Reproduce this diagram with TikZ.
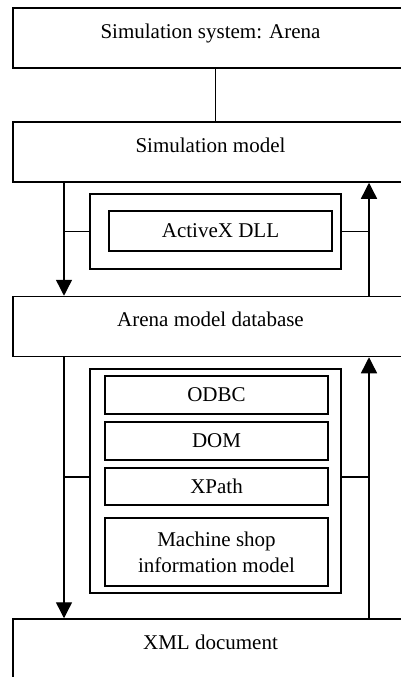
\documentclass[tikz,border=0pt]{standalone}
\usepackage{fontspec}
\setmainfont{Liberation Serif}
\usetikzlibrary{arrows.meta, positioning, calc}

\begin{document}
\begin{tikzpicture}[
    x=1pt, y=-1pt,
    layer/.style={rectangle, draw, line width=1.5pt, minimum width=395pt, minimum height=60pt, inner sep=0pt, text height=14pt, text depth=14pt, font=\fontsize{21}{26}\selectfont},
    frame/.style={rectangle, draw, line width=1.5pt, minimum width=251pt, inner sep=0pt},
    module/.style={rectangle, draw, line width=1.5pt, minimum width=223pt, minimum height=38pt, inner sep=0pt, align=center, font=\fontsize{21}{26}\selectfont},
    link/.style={line width=1.4pt},
    arrow/.style={-{Triangle[width=16pt, length=16pt]}, line width=1.4pt}
]
    % Page
    \clip (0, 0) rectangle (401, 677);
    \fill[white] (0, 0) rectangle (401, 677);

    % Layers
    \node[layer] (arena) at (210.5, 38) {Simulation system: Arena};
    \node[layer] (simmodel) at (210.5, 152) {Simulation model};
    \node[layer] (database) at (210.5, 326.5) {Arena model database};
    \node[layer] (xmldoc) at (210.5, 649) {XML document};

    % Interface between model and database
    \node[frame, minimum height=75pt] (upper) at (215.5, 231.5) {};
    \node[module, minimum height=40pt] (activex) at (220.5, 231) {ActiveX DLL};

    % Interface between database and XML
    \node[frame, minimum height=224pt] (lower) at (215.5, 481) {};
    \node[module] (odbc) at (216.5, 395) {ODBC};
    \node[module] (dom) at (216.5, 441) {DOM};
    \node[module, minimum height=37pt] (xpath) at (216.5, 486.5) {XPath};
    \node[module, minimum height=68pt] (shopmodel) at (216.5, 552) {Machine shop\\information model};

    % Rails
    \coordinate (downrail) at (64, 0);
    \coordinate (uprail) at (369, 0);

    % Arena to model
    \draw[link] (upper.north |- arena.south) -- (upper.north |- simmodel.north);

    % Arrows - model and database
    \draw[arrow] (downrail |- simmodel.south) -- (downrail |- database.north);
    \draw[arrow] (uprail |- database.north) -- (uprail |- simmodel.south);
    \draw[link] (upper.west) -- (upper.west -| downrail);
    \draw[link] (upper.east) -- (upper.east -| uprail);

    % Arrows - database and XML
    \draw[arrow] (downrail |- database.south) -- (downrail |- xmldoc.north);
    \draw[arrow] (uprail |- xmldoc.north) -- (uprail |- database.south);
    \draw[link] ([yshift=4pt]lower.west) -- ([yshift=4pt]lower.west -| downrail);
    \draw[link] ([yshift=4pt]lower.east) -- ([yshift=4pt]lower.east -| uprail);
\end{tikzpicture}
\end{document}
